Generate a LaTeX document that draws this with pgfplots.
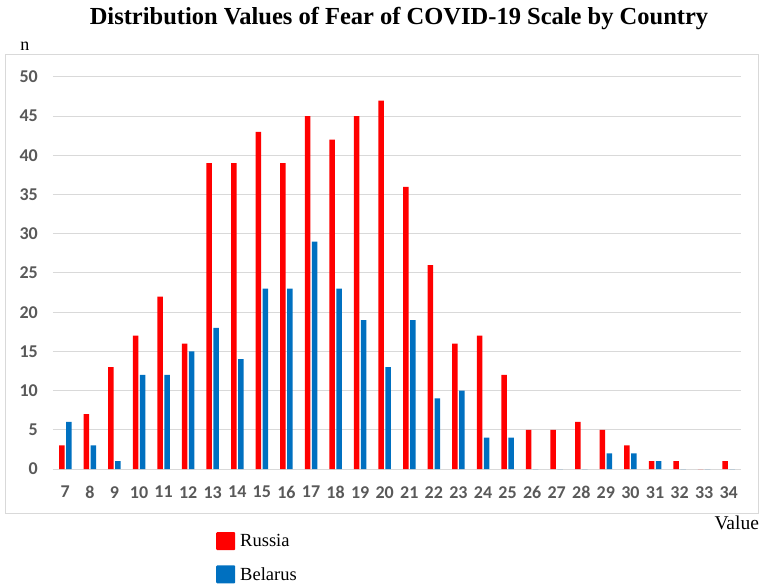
\documentclass[border=0pt]{standalone}
\usepackage{fontspec}
\setmainfont{Liberation Serif}
\newfontfamily\tickfont{Carlito}
\usepackage{pgfplots}
\pgfplotsset{compat=1.18}
\definecolor{rus}{HTML}{FF0000}
\definecolor{bel}{HTML}{0070C0}
\definecolor{gridc}{HTML}{D9D9D9}
\definecolor{tickc}{HTML}{595959}
\begin{document}
\begin{tikzpicture}
\useasboundingbox (-53pt,-116pt) rectangle (706pt,469pt);
\draw[gridc, line width=1pt] (-47pt,414pt) rectangle (705.5pt,-45pt);
\begin{axis}[
  at={(0pt,0pt)}, anchor=origin,
  scale only axis, width=688pt, height=392pt,
  xmin=6.5, xmax=34.5, ymin=0, ymax=50,
  xtick={7,...,34}, ytick={0,5,...,50},
  /pgf/number format/assume math mode=true,
  ymajorgrids, grid style={gridc, line width=1pt},
  axis line style={draw=none},
  major tick length=0pt,
  ybar=1.5pt, bar width=5.5pt,
  tick label style={font=\tickfont\bfseries\fontsize{18}{21}\selectfont, text=tickc},
  yticklabel style={inner sep=0pt, xshift=-15pt},
  xticklabel style={inner sep=0pt, yshift=-17pt},
  clip=false,
  legend style={at={(axis description cs:0.2326,-0.1556)}, anchor=north west, draw=none, fill=none,
    font=\fontsize{18.5}{21}\selectfont, row sep=15pt, cells={anchor=west},
    /tikz/every odd column/.append style={column sep=3pt}},
  legend image code/.code={\fill[#1, draw=none, rounded corners=1pt] (0pt,-9pt) rectangle (19pt,9pt);},
]
\addplot[fill=rus, draw=none] coordinates {
(7,3) (8,7) (9,13) (10,17) (11,22) (12,16) (13,39) (14,39) (15,43) (16,39)
(17,45) (18,42) (19,45) (20,47) (21,36) (22,26) (23,16) (24,17) (25,12) (26,5)
(27,5) (28,6) (29,5) (30,3) (31,1) (32,1) (33,0) (34,1)};
\addplot[fill=bel, draw=none] coordinates {
(7,6) (8,3) (9,1) (10,12) (11,12) (12,15) (13,18) (14,14) (15,23) (16,23)
(17,29) (18,23) (19,19) (20,13) (21,19) (22,9) (23,10) (24,4) (25,4) (26,0)
(27,0) (28,0) (29,2) (30,2) (31,1) (32,0) (33,0) (34,0)};
\legend{Russia, Belarus}
\end{axis}
\node[font=\bfseries\fontsize{24.5}{28}\selectfont] at (346pt,450pt) {Distribution Values of Fear of COVID-19 Scale by Country};
\node[font=\fontsize{18}{21}\selectfont] at (-28pt,423pt) {n};
\node[font=\fontsize{19.5}{23}\selectfont, anchor=west] at (658pt,-54pt) {Value};
\end{tikzpicture}
\end{document}
